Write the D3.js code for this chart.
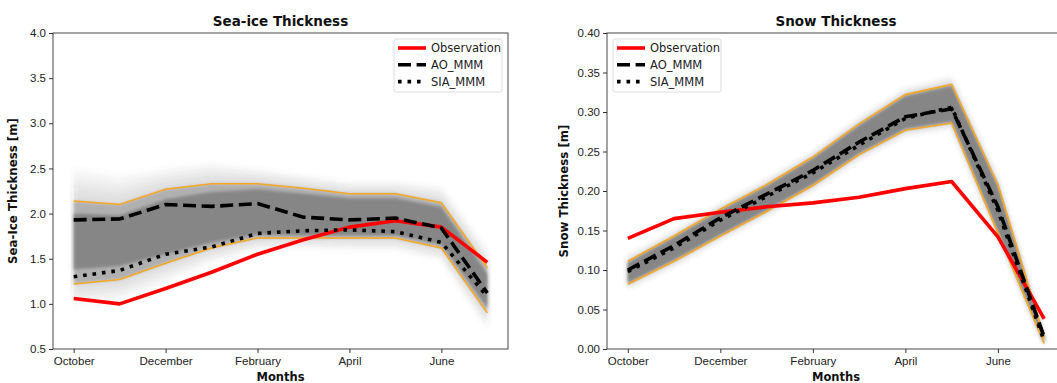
<!DOCTYPE html>
<html>
<head>
<meta charset="utf-8">
<script src="https://cdn.jsdelivr.net/npm/d3@7"></script>
<style>
  body { margin: 0; background: #fff; }
  svg { font-family: "DejaVu Sans", sans-serif; }
  .tick text { font-size: 11.5px; fill: #222; }
  .domain, .tick line { stroke: #333; }
</style>
</head>
<body>
<div id="vis"></div>
<script>
// months on the x axis (index 0..9)
const months = ["October", "November", "December", "January", "February", "March", "April", "May", "June", "July"];
const tickMonths = ["October", "December", "February", "April", "June"];

// sea-ice thickness [m]
const iceObs   = [1.06, 1.00, 1.17, 1.35, 1.55, 1.71, 1.85, 1.92, 1.85, 1.46];
const iceAO    = [1.93, 1.94, 2.10, 2.08, 2.11, 1.96, 1.93, 1.95, 1.84, 1.12];
const iceSIA   = [1.30, 1.37, 1.55, 1.63, 1.78, 1.81, 1.82, 1.80, 1.68, 1.08];
const iceUpper = [2.14, 2.10, 2.27, 2.33, 2.33, 2.28, 2.22, 2.22, 2.12, 1.40];
const iceLower = [1.22, 1.27, 1.45, 1.62, 1.73, 1.73, 1.73, 1.73, 1.62, 0.90];
const iceCoreUp = [2.00, 1.98, 2.16, 2.24, 2.27, 2.22, 2.17, 2.17, 2.07, 1.33];
const iceCoreLo = [1.38, 1.42, 1.55, 1.68, 1.77, 1.76, 1.76, 1.76, 1.66, 0.96];
const iceOuterUp = [2.50, 2.42, 2.50, 2.56, 2.50, 2.42, 2.35, 2.35, 2.30, 1.60];
const iceOuterLo = [0.98, 1.04, 1.24, 1.46, 1.60, 1.62, 1.60, 1.60, 1.48, 0.72];
const iceTicks = [0.5, 1.0, 1.5, 2.0, 2.5, 3.0, 3.5, 4.0];

// snow thickness [m]
const snowObs   = [0.140, 0.165, 0.173, 0.180, 0.185, 0.192, 0.203, 0.212, 0.142, 0.038];
const snowAO    = [0.100, 0.131, 0.166, 0.196, 0.226, 0.262, 0.294, 0.304, 0.180, 0.015];
const snowSIA   = [0.098, 0.128, 0.163, 0.193, 0.223, 0.258, 0.292, 0.306, 0.175, 0.010];
const snowUpper = [0.111, 0.143, 0.177, 0.208, 0.243, 0.285, 0.322, 0.335, 0.208, 0.015];
const snowLower = [0.082, 0.111, 0.143, 0.174, 0.207, 0.246, 0.277, 0.286, 0.147, 0.007];
const snowCoreUp = [0.109, 0.141, 0.175, 0.206, 0.241, 0.283, 0.320, 0.333, 0.206, 0.014];
const snowCoreLo = [0.084, 0.113, 0.145, 0.176, 0.209, 0.248, 0.279, 0.288, 0.149, 0.008];
const snowOuterUp = [0.118, 0.150, 0.184, 0.215, 0.250, 0.293, 0.330, 0.345, 0.216, 0.020];
const snowOuterLo = [0.076, 0.104, 0.137, 0.168, 0.200, 0.239, 0.270, 0.279, 0.140, 0.004];
const snowTicks = [0.00, 0.05, 0.10, 0.15, 0.20, 0.25, 0.30, 0.35, 0.40];

const W = 1057, H = 383;
const svg = d3.select("#vis").append("svg").attr("width", W).attr("height", H);

const defs = svg.append("defs");
defs.append("filter").attr("id", "soft").attr("x", "-10%").attr("y", "-30%").attr("width", "120%").attr("height", "160%")
  .append("feGaussianBlur").attr("stdDeviation", 2.5);
defs.append("filter").attr("id", "soft2").attr("x", "-10%").attr("y", "-30%").attr("width", "120%").attr("height", "160%")
  .append("feGaussianBlur").attr("stdDeviation", 1.5);

function panel(opt) {
  const g = svg.append("g");
  const x = d3.scaleLinear().domain([-0.45, 9.45]).range([opt.left, opt.left + opt.width]);
  const y = d3.scaleLinear().domain(opt.yDomain).range([349, 33]);
  const idx = d3.range(months.length);

  const band = (lo, hi) => d3.area().x(i => x(i)).y0(i => y(lo[i])).y1(i => y(hi[i]))(idx);
  const line = arr => d3.line().x(i => x(i)).y(i => y(arr[i]))(idx);

  const clipId = "clip" + opt.left;
  defs.append("clipPath").attr("id", clipId).append("rect")
    .attr("x", opt.left).attr("y", 33).attr("width", opt.width).attr("height", 316);
  const plot = g.append("g").attr("clip-path", `url(#${clipId})`);

  // ensemble spread: faint outer cloud, then the envelope, then the dense core
  const layers = 5;
  for (let k = 0; k < layers; k++) {
    const t = k / layers;
    const hi = opt.outerUp.map((v, i) => v + (opt.upper[i] - v) * t);
    const lo = opt.outerLo.map((v, i) => v + (opt.lower[i] - v) * t);
    plot.append("path").attr("d", band(lo, hi))
      .attr("fill", "#7a7a7a").attr("fill-opacity", 0.05)
      .attr("filter", "url(#soft)");
  }
  plot.append("path").attr("d", band(opt.lower, opt.upper))
    .attr("fill", "#8a8a8a").attr("fill-opacity", 0.55)
    .attr("filter", "url(#soft2)");
  plot.append("path").attr("d", band(opt.coreLo, opt.coreUp))
    .attr("fill", "#828282").attr("fill-opacity", 0.9)
    .attr("filter", "url(#soft2)");

  // orange envelope
  [opt.upper, opt.lower].forEach(a => plot.append("path").attr("d", line(a))
    .attr("fill", "none").attr("stroke", "#f5a623").attr("stroke-width", 1.6));

  // observation and multi-model means
  plot.append("path").attr("d", line(opt.obs))
    .attr("fill", "none").attr("stroke", "#ff0000").attr("stroke-width", 3.6)
    .attr("stroke-linejoin", "round");
  plot.append("path").attr("d", line(opt.ao))
    .attr("fill", "none").attr("stroke", "#000").attr("stroke-width", 3.6)
    .attr("stroke-dasharray", "13,5.6");
  plot.append("path").attr("d", line(opt.sia))
    .attr("fill", "none").attr("stroke", "#000").attr("stroke-width", 3.6)
    .attr("stroke-dasharray", "3.6,5.9");

  // frame
  g.append("rect").attr("x", opt.left).attr("y", 33).attr("width", opt.width).attr("height", 316)
    .attr("fill", "none").attr("stroke", "#333").attr("stroke-width", 0.9);

  const xAxis = g.append("g").attr("transform", "translate(0,349)")
    .call(d3.axisBottom(x).tickValues(tickMonths.map(m => months.indexOf(m)))
      .tickFormat(i => months[i]).tickSize(4).tickPadding(4));
  xAxis.select(".domain").remove();

  const yAxis = g.append("g").attr("transform", `translate(${opt.left},0)`)
    .call(d3.axisLeft(y).tickValues(opt.ticks).tickFormat(d3.format(opt.fmt)).tickSize(4).tickPadding(3));
  yAxis.select(".domain").remove();

  g.append("text").attr("x", opt.left + opt.width / 2).attr("y", 26)
    .attr("text-anchor", "middle").attr("font-size", 13.5).attr("font-weight", "bold").attr("fill", "#111")
    .text(opt.title);
  g.append("text").attr("x", opt.left + opt.width / 2).attr("y", 381)
    .attr("text-anchor", "middle").attr("font-size", 11.5).attr("font-weight", "bold").attr("fill", "#111")
    .text("Months");
  g.append("text").attr("transform", `translate(${opt.ylabelX},191) rotate(-90)`)
    .attr("text-anchor", "middle").attr("font-size", 11.8).attr("font-weight", "bold").attr("fill", "#111")
    .text(opt.ylabel);

  // legend
  const lg = g.append("g").attr("transform", `translate(${opt.legendX},39)`);
  lg.append("rect").attr("width", 108).attr("height", 53).attr("rx", 2)
    .attr("fill", "#fff").attr("fill-opacity", 0.85).attr("stroke", "#ddd");
  const entries = [
    { label: "Observation", color: "#ff0000", dash: null },
    { label: "AO_MMM", color: "#000", dash: "13,5.6" },
    { label: "SIA_MMM", color: "#000", dash: "3.6,5.9" }
  ];
  entries.forEach((e, k) => {
    const yy = 9 + k * 16.8;
    lg.append("line").attr("x1", 4).attr("x2", 32).attr("y1", yy).attr("y2", yy)
      .attr("stroke", e.color).attr("stroke-width", 3.6)
      .attr("stroke-dasharray", e.dash);
    lg.append("text").attr("x", 37).attr("y", yy + 4).attr("font-size", 11.5).attr("fill", "#222").text(e.label);
  });
}

panel({
  left: 53, width: 455, yDomain: [0.5, 4.0], ticks: iceTicks, fmt: ".1f",
  title: "Sea-ice Thickness", ylabel: "Sea-Ice Thickness [m]", ylabelX: 17, legendX: 394,
  obs: iceObs, ao: iceAO, sia: iceSIA, upper: iceUpper, lower: iceLower,
  coreUp: iceCoreUp, coreLo: iceCoreLo, outerUp: iceOuterUp, outerLo: iceOuterLo
});
panel({
  left: 607, width: 458, yDomain: [0.0, 0.40], ticks: snowTicks, fmt: ".2f",
  title: "Snow Thickness", ylabel: "Snow Thickness [m]", ylabelX: 568, legendX: 613,
  obs: snowObs, ao: snowAO, sia: snowSIA, upper: snowUpper, lower: snowLower,
  coreUp: snowCoreUp, coreLo: snowCoreLo, outerUp: snowOuterUp, outerLo: snowOuterLo
});
</script>
</body>
</html>
